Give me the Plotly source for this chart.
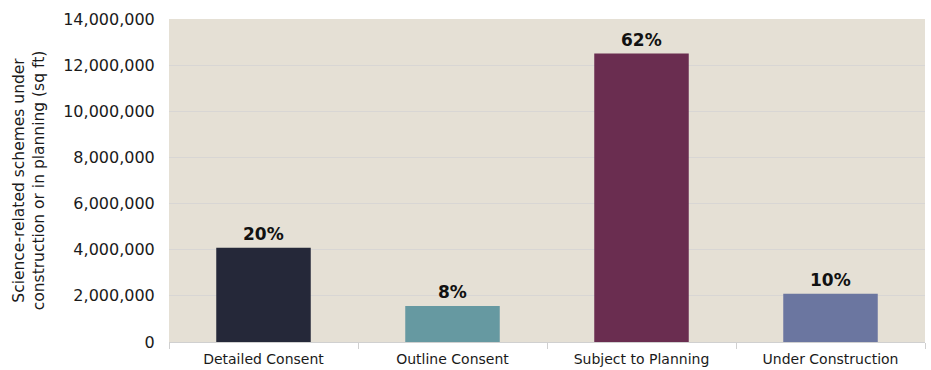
import plotly.graph_objects as go

categories = ["Detailed Consent", "Outline Consent", "Subject to Planning", "Under Construction"]
values = [4090000, 1560000, 12500000, 2090000]
pct_labels = ["20%", "8%", "62%", "10%"]
colors = ["#252839", "#6699a1", "#6a2d50", "#6b76a0"]
y_ticks = [0, 2000000, 4000000, 6000000, 8000000, 10000000, 12000000, 14000000]

FONT = "DejaVu Sans"

fig = go.Figure(go.Bar(
    x=categories, y=values,
    marker=dict(color=colors, line=dict(width=0)),
))

for cat, val, lab in zip(categories, values, pct_labels):
    fig.add_annotation(
        x=cat, y=val, text=lab, showarrow=False,
        yanchor="bottom", yshift=2,
        font=dict(family=FONT, size=17, color="#111111", weight="bold"),
    )

fig.update_layout(
    width=931, height=370,
    margin=dict(l=169, r=6, t=19, b=28, autoexpand=False),
    paper_bgcolor="white", plot_bgcolor="#e5e0d5",
    bargap=0.5, showlegend=False,
    font=dict(family=FONT, size=14, color="#1a1a1a"),
)
fig.update_yaxes(
    range=[0, 14000000], tickvals=y_ticks, tickformat=",d",
    gridcolor="#d8d6d4", gridwidth=1, zeroline=False, showline=False,
    ticks="outside", ticklen=10, tickcolor="rgba(0,0,0,0)", automargin=False,
    tickfont=dict(family=FONT, size=16, color="#1a1a1a"),
    title=dict(text="Science-related schemes under<br>construction or in planning (sq ft)",
               font=dict(family=FONT, size=15.5, color="#1a1a1a"), standoff=14),
)
fig.update_xaxes(
    showline=True, linecolor="#d0d0d0", linewidth=1, automargin=False,
    ticks="outside", tickson="boundaries", ticklen=6, tickcolor="#d0d0d0",
    ticklabelstandoff=4,
    tickfont=dict(family=FONT, size=14, color="#1a1a1a"), showgrid=False,
)

fig.write_html("out.html")
